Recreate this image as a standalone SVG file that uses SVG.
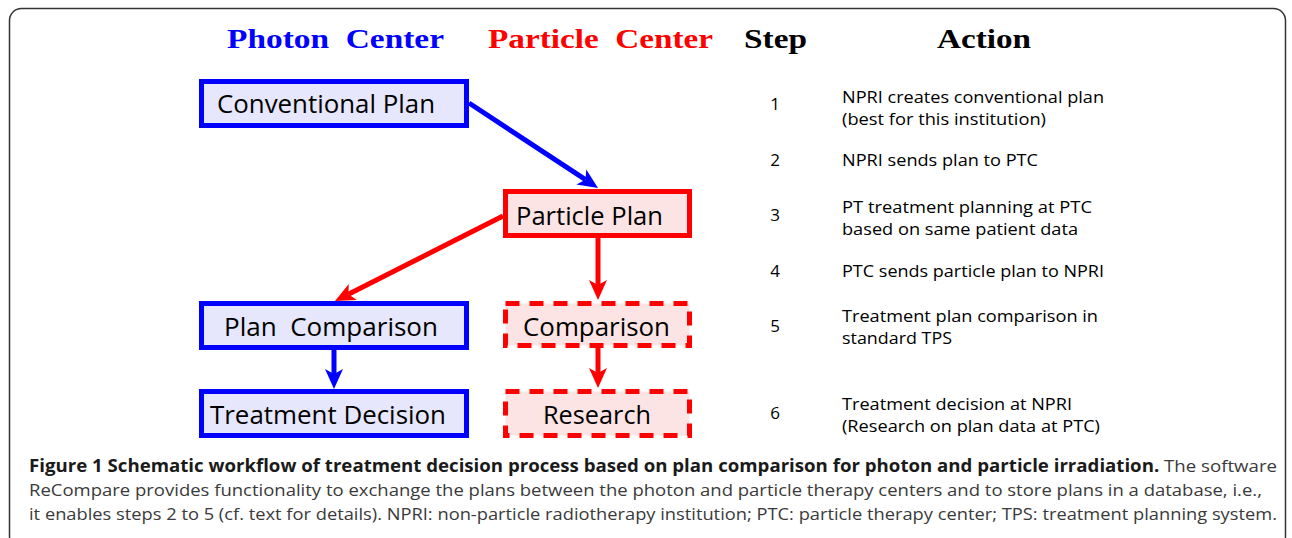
<svg xmlns="http://www.w3.org/2000/svg" width="1292" height="538" viewBox="0 0 1292 538">
<style>
.hdr{font-family:"Liberation Serif","DejaVu Serif",serif;font-weight:bold;font-size:28px}
.box{stroke-width:5}
.bb{fill:#e6e6fc;stroke:#0000ff}
.rb{fill:#fde4e4;stroke:#ff0000}
.dash{stroke-dasharray:14 10}
.lbl{font-family:"Open Sans","Noto Sans",sans-serif;font-size:26px;fill:#000}
.txt{font-family:"Open Sans","Noto Sans",sans-serif;font-size:17px;fill:#000}
.cap{font-family:"Open Sans","Noto Sans",sans-serif;font-size:17px;fill:#3a3a3a}
.capb{font-weight:bold;fill:#1a1a1a}
.cb{stroke:#0000ff;stroke-width:5;fill:none}
.cr{stroke:#ff0000;stroke-width:5;fill:none}
</style>
<defs>
<marker id="ab" viewBox="0 0 20 20" refX="5" refY="10" markerWidth="20" markerHeight="20" markerUnits="userSpaceOnUse" orient="auto">
<path d="M0,1 L20,10 L0,19 L5,10 Z" fill="#0000ff"/>
</marker>
<marker id="ar" viewBox="0 0 20 20" refX="5" refY="10" markerWidth="20" markerHeight="20" markerUnits="userSpaceOnUse" orient="auto">
<path d="M0,1 L20,10 L0,19 L5,10 Z" fill="#ff0000"/>
</marker>
</defs>
<rect x="0" y="0" width="1292" height="538" fill="#fff"/>
<rect x="9.5" y="8.5" width="1276" height="540" rx="12" fill="none" stroke="#333" stroke-width="1.5"/>

<g id="headers">
<text class="hdr" x="227" y="48" fill="#0000ff" xml:space="preserve" textLength="217" lengthAdjust="spacingAndGlyphs">Photon  Center</text>
<text class="hdr" x="488" y="48" fill="#ff0000" xml:space="preserve" textLength="225" lengthAdjust="spacingAndGlyphs">Particle  Center</text>
<text class="hdr" x="744" y="48" fill="#000" textLength="63" lengthAdjust="spacingAndGlyphs">Step</text>
<text class="hdr" x="937" y="48" fill="#000" textLength="94" lengthAdjust="spacingAndGlyphs">Action</text>
</g>

<g id="connectors">
<line class="cb" x1="469" y1="103" x2="585.5" y2="179.7" marker-end="url(#ab)"/>
<line class="cr" x1="503" y1="216" x2="348.4" y2="294.2" marker-end="url(#ar)"/>
<line class="cr" x1="598" y1="237" x2="598" y2="285" marker-end="url(#ar)"/>
<line class="cb" x1="334" y1="349" x2="334" y2="374" marker-end="url(#ab)"/>
<line class="cr" x1="598" y1="347" x2="598" y2="373" marker-end="url(#ar)"/>
</g>

<g id="conventional-plan">
<rect class="box bb" x="201.5" y="81.5" width="265" height="44"/>
<text class="lbl" x="217" y="113" textLength="218" lengthAdjust="spacingAndGlyphs">Conventional Plan</text>
</g>
<g id="particle-plan">
<rect class="box rb" x="505.5" y="191.5" width="184" height="44"/>
<text class="lbl" x="516" y="225" textLength="147" lengthAdjust="spacingAndGlyphs">Particle Plan</text>
</g>
<g id="plan-comparison">
<rect class="box bb" x="201.5" y="303.5" width="265" height="44"/>
<text class="lbl" x="224" y="336" xml:space="preserve" textLength="214" lengthAdjust="spacingAndGlyphs">Plan  Comparison</text>
</g>
<g id="treatment-decision">
<rect class="box bb" x="201.5" y="391.5" width="265" height="44"/>
<text class="lbl" x="210" y="424" textLength="236" lengthAdjust="spacingAndGlyphs">Treatment Decision</text>
</g>
<g id="comparison">
<rect class="box rb dash" x="505.5" y="303.5" width="184" height="42"/>
<text class="lbl" x="523" y="336" textLength="147" lengthAdjust="spacingAndGlyphs">Comparison</text>
</g>
<g id="research">
<rect class="box rb dash" x="505.5" y="391.5" width="184" height="44"/>
<text class="lbl" x="543" y="424" textLength="108" lengthAdjust="spacingAndGlyphs">Research</text>
</g>

<g id="steps">
<text class="txt" x="775" y="110" text-anchor="middle">1</text>
<text class="txt" x="775" y="166" text-anchor="middle">2</text>
<text class="txt" x="775" y="221" text-anchor="middle">3</text>
<text class="txt" x="775" y="277" text-anchor="middle">4</text>
<text class="txt" x="775" y="332" text-anchor="middle">5</text>
<text class="txt" x="775" y="419" text-anchor="middle">6</text>
</g>

<g id="actions">
<text class="txt" x="842" y="103" textLength="262" lengthAdjust="spacingAndGlyphs">NPRI creates conventional plan</text>
<text class="txt" x="842" y="125" textLength="204" lengthAdjust="spacingAndGlyphs">(best for this institution)</text>
<text class="txt" x="842" y="166" textLength="196" lengthAdjust="spacingAndGlyphs">NPRI sends plan to PTC</text>
<text class="txt" x="842" y="213" textLength="250" lengthAdjust="spacingAndGlyphs">PT treatment planning at PTC</text>
<text class="txt" x="842" y="235" textLength="236" lengthAdjust="spacingAndGlyphs">based on same patient data</text>
<text class="txt" x="842" y="277" textLength="262" lengthAdjust="spacingAndGlyphs">PTC sends particle plan to NPRI</text>
<text class="txt" x="842" y="322" textLength="256" lengthAdjust="spacingAndGlyphs">Treatment plan comparison in</text>
<text class="txt" x="842" y="344" textLength="110" lengthAdjust="spacingAndGlyphs">standard TPS</text>
<text class="txt" x="842" y="410" textLength="230" lengthAdjust="spacingAndGlyphs">Treatment decision at NPRI</text>
<text class="txt" x="842" y="432" textLength="258" lengthAdjust="spacingAndGlyphs">(Research on plan data at PTC)</text>
</g>

<g id="caption">
<text class="cap" x="29" y="472" textLength="1248" lengthAdjust="spacingAndGlyphs"><tspan class="capb">Figure 1 Schematic workflow of treatment decision process based on plan comparison for photon and particle irradiation.</tspan> The software</text>
<text class="cap" x="29" y="496" textLength="1233" lengthAdjust="spacingAndGlyphs">ReCompare provides functionality to exchange the plans between the photon and particle therapy centers and to store plans in a database, i.e.,</text>
<text class="cap" x="29" y="520" textLength="1248" lengthAdjust="spacingAndGlyphs">it enables steps 2 to 5 (cf. text for details). NPRI: non-particle radiotherapy institution; PTC: particle therapy center; TPS: treatment planning system.</text>
</g>
</svg>
